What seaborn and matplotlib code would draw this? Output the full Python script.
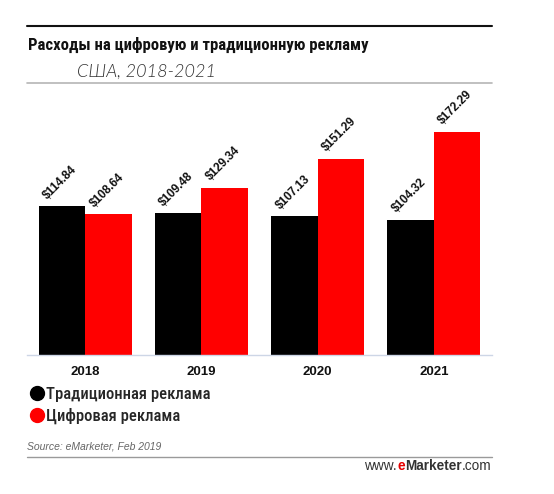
import numpy as np
import pandas as pd
import matplotlib
matplotlib.use("Agg")
import matplotlib.pyplot as plt
import seaborn as sns
from matplotlib.lines import Line2D
from matplotlib.font_manager import FontProperties

# ---- data ----
years = ["2018", "2019", "2020", "2021"]
traditional = [114.84, 109.48, 107.13, 104.32]
digital = [108.64, 129.34, 151.29, 172.29]
series_names = ["Традиционная реклама", "Цифровая реклама"]
series_colors = ["#000000", "#ff0000"]

title = "Расходы на цифровую и традиционную рекламу"
subtitle = "США, 2018-2021"
source = "Source: eMarketer, Feb 2019"

df = pd.DataFrame({
    "year": years * 2,
    "value": traditional + digital,
    "type": [series_names[0]] * len(years) + [series_names[1]] * len(years),
})

sns.set_style("white")
plt.rcParams["font.family"] = ["Liberation Sans", "DejaVu Sans"]

W, H = 554, 494
fig = plt.figure(figsize=(W / 100, H / 100), dpi=100)


def fx(px):
    return px / W


def fy(py):
    return 1 - py / H


ax = fig.add_axes([fx(27), fy(355), fx(492) - fx(27), fy(100) - fy(355)])

sns.barplot(data=df, x="year", y="value", hue="type", palette=series_colors,
            width=0.8, saturation=1, legend=False, ax=ax, edgecolor="none")

ax.set_ylim(0, 197)
ax.set_xlim(-0.5, 3.5)
for s in ["top", "right", "left"]:
    ax.spines[s].set_visible(False)
ax.spines["bottom"].set_color("#cdd6e6")
ax.spines["bottom"].set_linewidth(1)
ax.set_yticks([])
ax.set_xlabel("")
ax.set_ylabel("")
ax.tick_params(axis="x", length=0, pad=8)
for lbl in ax.get_xticklabels():
    lbl.set_fontweight("bold")
    lbl.set_fontsize(9.5)
    lbl.set_color("#111111")

# value labels, rotated
for cont in ax.containers:
    for bar in cont:
        ax.annotate(f"\\${bar.get_height():.2f}",
                    xy=(bar.get_x(), bar.get_height()),
                    xytext=(11, 5), textcoords="offset pixels",
                    ha="left", va="bottom", rotation=45, rotation_mode="anchor",
                    fontsize=8.5, fontweight="bold", color="#111111")

# legend below the chart
narrow = ["Roboto Condensed", "PT Sans Narrow", "Fira Sans Condensed",
          "Liberation Sans Narrow", "DejaVu Sans"]
handles = [Line2D([0], [0], marker="o", linestyle="none", markersize=10,
                  markerfacecolor=c, markeredgecolor=c) for c in series_colors]
ax.legend(handles, series_names, loc="upper left",
          bbox_to_anchor=(fx(30), fy(387)), bbox_transform=fig.transFigure,
          frameon=False, borderpad=0, borderaxespad=0, handlelength=0.8,
          handletextpad=0.15, labelspacing=0.35,
          prop=FontProperties(family=narrow, size=12, weight=500))

# titles
fig.text(fx(28), fy(45), title, ha="left", va="center", fontsize=12,
         fontweight="bold", family=narrow, color="#111111")
fig.text(fx(77), fy(72), subtitle, ha="left", va="center", fontsize=13,
         style="italic", fontweight=300, family=["Lato", "DejaVu Sans"],
         color="#333333")

# rules
fig.add_artist(Line2D([fx(27), fx(492)], [fy(26), fy(26)], color="#111111",
                      lw=1.5, transform=fig.transFigure))
fig.add_artist(Line2D([fx(27), fx(492)], [fy(83), fy(83)], color="#b5b5b5",
                      lw=1.2, transform=fig.transFigure))
fig.add_artist(Line2D([fx(27), fx(492)], [fy(457), fy(457)], color="#9a9a9a",
                      lw=1.0, transform=fig.transFigure))

# footer
fig.text(fx(27), fy(446), source, ha="left", va="center", fontsize=7.5,
         style="italic", color="#666666")
r = fig.canvas.get_renderer()
t3 = fig.text(fx(491), fy(466), ".com", ha="right", va="center", fontsize=9.8,
              color="#333333")
bb = t3.get_window_extent(r)
t2 = fig.text(bb.x0 / W, fy(466), "Marketer", ha="right", va="center",
              fontsize=9.8, fontweight="bold", color="#333333")
bb = t2.get_window_extent(r)
t1 = fig.text(bb.x0 / W, fy(466), "e", ha="right", va="center", fontsize=9.8,
              fontweight="bold", color="#e60000")
bb = t1.get_window_extent(r)
fig.text(bb.x0 / W, fy(466), "www.", ha="right", va="center", fontsize=9.8,
         color="#333333")

fig.savefig("out.png", dpi=100)
